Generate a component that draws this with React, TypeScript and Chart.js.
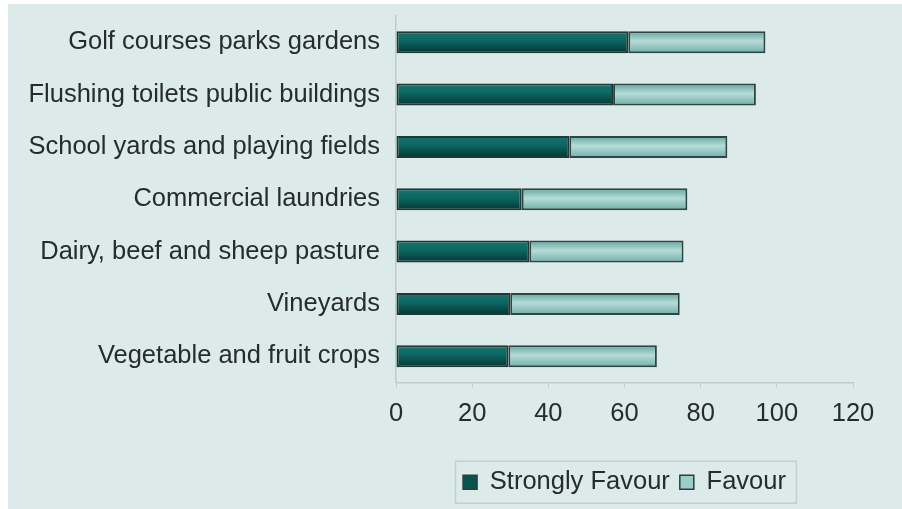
import React, { useEffect, useRef } from "react";
import { Chart, registerables } from "chart.js";

Chart.register(...registerables);

const categories = [
  "Golf courses parks gardens",
  "Flushing toilets public buildings",
  "School yards and playing fields",
  "Commercial laundries",
  "Dairy, beef and sheep pasture",
  "Vineyards",
  "Vegetable and fruit crops",
];
const stronglyFavour = [61, 57, 45.5, 33, 35, 30, 29.5];
const favour = [36, 37.5, 41.5, 43.5, 40.5, 44.5, 39];
const xTicks = [0, 20, 40, 60, 80, 100, 120];
const seriesNames = ["Strongly Favour", "Favour"];

const FONT = "'Liberation Sans', Arial, sans-serif";
const TEXT = "#262b2b";
const BG = "#dceae9";
const BAR_FRACTION = 0.42;

function barGradient(ctx: any, stops: [number, string][]) {
  const chart = ctx.chart;
  const y = chart.scales?.y;
  if (!y || ctx.dataIndex === undefined) return stops[1][1];
  const c = y.getPixelForValue(ctx.dataIndex);
  const spacing = Math.abs(y.getPixelForValue(1) - y.getPixelForValue(0));
  const half = (spacing * BAR_FRACTION) / 2;
  const g = chart.ctx.createLinearGradient(0, c - half, 0, c + half);
  stops.forEach(([o, col]) => g.addColorStop(o, col));
  return g;
}

const bgPlugin = {
  id: "bgPlugin",
  beforeDraw(chart: any) {
    const { ctx, width, height } = chart;
    ctx.save();
    ctx.fillStyle = "#ffffff";
    ctx.fillRect(0, 0, width, height);
    ctx.fillStyle = BG;
    ctx.fillRect(8, 4, width - 8, height - 4);
    ctx.restore();
  },
};

const legendBoxPlugin = {
  id: "legendBox",
  afterDraw(chart: any) {
    const hb = chart.legend?.legendHitBoxes;
    if (!hb || !hb.length) return;
    const first = hb[0];
    const last = hb[hb.length - 1];
    const left = first.left - 8;
    const right = last.left + last.width + 10;
    const cy = first.top + first.height / 2;
    const ctx = chart.ctx;
    ctx.save();
    ctx.strokeStyle = "#c3cfce";
    ctx.lineWidth = 1.5;
    ctx.strokeRect(left + 0.5, cy - 21, right - left, 42);
    ctx.restore();
  },
};

export default function App() {
  const ref = useRef<HTMLCanvasElement | null>(null);
  useEffect(() => {
    document.body.style.margin = "0";
    if (!ref.current) return;
    const chart = new Chart(ref.current, {
      type: "bar",
      data: {
        labels: categories,
        datasets: [
          {
            label: seriesNames[0],
            data: stronglyFavour,
            backgroundColor: (ctx: any) =>
              barGradient(ctx, [
                [0, "#177570"],
                [0.45, "#0c6560"],
                [1, "#043633"],
              ]),
            borderColor: "#213835",
            borderWidth: 2,
            borderSkipped: false,
            barPercentage: 0.6,
            categoryPercentage: 0.7,
          },
          {
            label: seriesNames[1],
            data: favour,
            backgroundColor: (ctx: any) =>
              barGradient(ctx, [
                [0, "#5ea59f"],
                [0.45, "#b7dcd8"],
                [1, "#6eaea8"],
              ]),
            borderColor: "#2e4542",
            borderWidth: 2,
            borderSkipped: false,
            barPercentage: 0.6,
            categoryPercentage: 0.7,
          },
        ],
      },
      options: {
        indexAxis: "y",
        responsive: false,
        animation: false,
        layout: { padding: { left: 8, top: 16, right: 49, bottom: 4 } },
        scales: {
          x: {
            stacked: true,
            min: 0,
            max: 120,
            afterBuildTicks: (scale: any) => {
              scale.ticks = xTicks.map((v) => ({ value: v }));
            },
            afterFit: (scale: any) => {
              scale.height = 77;
            },
            grid: {
              drawOnChartArea: false,
              drawTicks: true,
              tickLength: 5,
              color: "#bfcccb",
            },
            border: { display: true, color: "#bfcccb", width: 1.5 },
            ticks: {
              padding: 11,
              color: TEXT,
              font: { family: FONT, size: 25.5 },
            },
          },
          y: {
            stacked: true,
            afterFit: (scale: any) => {
              scale.width = 388;
            },
            grid: {
              display: true,
              drawOnChartArea: false,
              drawTicks: true,
              tickLength: 16,
              color: "rgba(0,0,0,0)",
            },
            border: { display: true, color: "#bfcccb", width: 1.5 },
            ticks: {
              padding: 0,
              color: TEXT,
              font: { family: FONT, size: 25.5 },
            },
          },
        },
        plugins: {
          tooltip: { enabled: false },
          legend: {
            position: "bottom",
            fullSize: false,
            labels: {
              color: TEXT,
              font: { family: FONT, size: 25.5 },
              boxWidth: 14,
              boxHeight: 14,
              padding: 10,
              generateLabels: (c: any) =>
                c.data.datasets.map((ds: any, i: number) => ({
                  text: ds.label,
                  fillStyle: i === 0 ? "#0a524d" : "#9dcdc8",
                  strokeStyle: "#26403d",
                  lineWidth: 1.5,
                  hidden: false,
                  datasetIndex: i,
                  fontColor: TEXT,
                })),
            },
          },
        },
      },
      plugins: [bgPlugin, legendBoxPlugin],
    } as any);
    return () => chart.destroy();
  }, []);
  return (
    <div style={{ width: 902, height: 509 }}>
      <canvas ref={ref} width={902} height={509} />
    </div>
  );
}
